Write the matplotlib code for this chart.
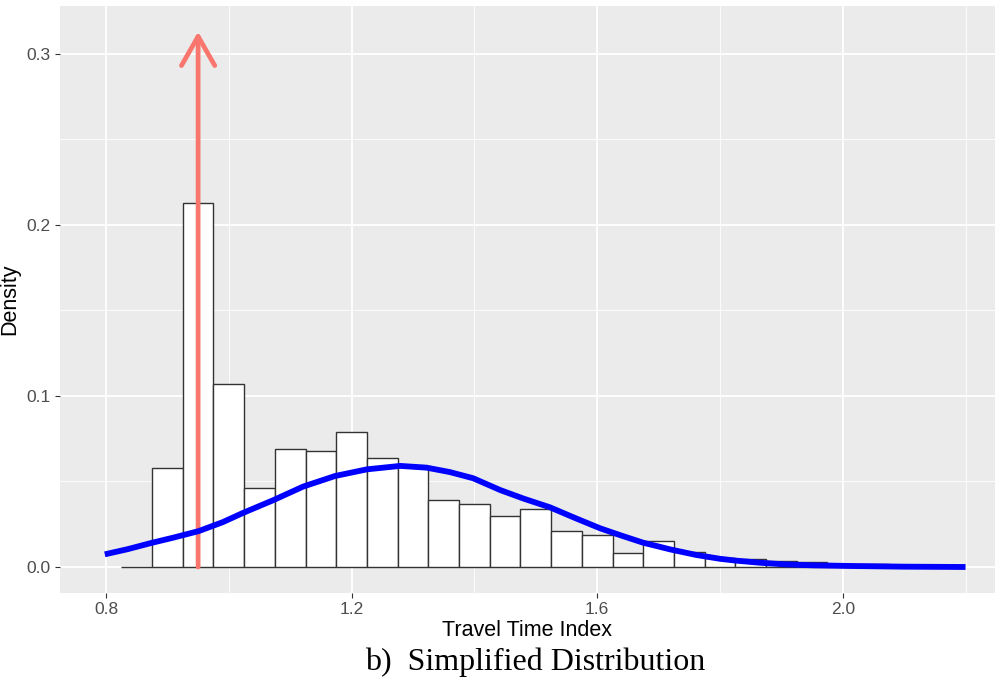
import numpy as np
import matplotlib.pyplot as plt

plt.rcParams['font.family'] = ['Liberation Sans', 'DejaVu Sans']

# Histogram of the travel time index (bin width 0.05, density scale)
bin_density = [0.0, 0.058, 0.213, 0.107, 0.046, 0.069, 0.068, 0.079, 0.064,
               0.059, 0.039, 0.037, 0.030, 0.034, 0.021, 0.019, 0.008, 0.015,
               0.009, 0.005, 0.0045, 0.0037, 0.0031, 0.0, 0.0019]
bin_start = 0.825
bin_width = 0.05
bin_left = bin_start + bin_width * np.arange(len(bin_density))

# Fitted density curve
curve_x = [0.798, 0.835, 0.872, 0.910, 0.951, 0.990, 1.023, 1.072, 1.121,
           1.173, 1.225, 1.279, 1.322, 1.360, 1.398, 1.442, 1.480, 1.523,
           1.565, 1.605, 1.640, 1.675, 1.720, 1.762, 1.800, 1.827, 1.865,
           1.903, 1.950, 2.012, 2.100, 2.200]
curve_y = [0.0074, 0.0104, 0.0139, 0.0172, 0.0210, 0.0262, 0.0316, 0.0390,
           0.0470, 0.0532, 0.0571, 0.0591, 0.0581, 0.0555, 0.0519, 0.0450,
           0.0400, 0.0349, 0.0285, 0.0226, 0.0183, 0.0142, 0.0102, 0.0070,
           0.0048, 0.0037, 0.0025, 0.0016, 0.0010, 0.0006, 0.0002, 0.0]

# Marker for the simplified value
arrow_x = 0.95
arrow_top = 0.313

fig = plt.figure(figsize=(9.98, 6.82), dpi=100)
ax = fig.add_axes([0.0601, 0.1305, 0.9369, 0.8607])
ax.set_facecolor('#EBEBEB')

ax.bar(bin_left, bin_density, width=bin_width, align='edge',
       color='white', edgecolor='#333333', linewidth=1.0, zorder=2)

ax.annotate('', xy=(arrow_x, arrow_top), xytext=(arrow_x, 0),
            arrowprops=dict(arrowstyle='->,head_length=2.1,head_width=1.2',
                            color='#F8766D', lw=3.4, mutation_scale=10,
                            shrinkA=0, shrinkB=0),
            zorder=3)

ax.plot(curve_x, curve_y, color='#0000FF', lw=4.2, zorder=4,
        solid_capstyle='butt')

ax.set_xlim(0.725, 2.248)
ax.set_ylim(-0.0152, 0.328)
ax.set_xticks([0.8, 1.2, 1.6, 2.0])
ax.set_xticklabels(['0.8', '1.2', '1.6', '2.0'])
ax.set_yticks([0.0, 0.1, 0.2, 0.3])
ax.set_yticklabels(['0.0', '0.1', '0.2', '0.3'])
ax.set_xticks([1.0, 1.4, 1.8, 2.2], minor=True)
ax.set_yticks([0.05, 0.15, 0.25], minor=True)

ax.grid(which='major', color='white', lw=1.3, zorder=0)
ax.grid(which='minor', color='white', lw=0.6, zorder=0)
ax.set_axisbelow(True)
for s in ax.spines.values():
    s.set_visible(False)
ax.tick_params(which='major', length=3.5, width=0.8, color='#333333',
               labelcolor='#4D4D4D', labelsize=12.5, pad=3)
ax.tick_params(which='minor', length=0)

ax.set_xlabel('Travel Time Index', fontsize=15.5, color='black', labelpad=2)
ax.set_ylabel('Density', fontsize=15.5, color='black')
ax.yaxis.set_label_coords(-0.043, 0.5)

fig.text(0.536, 0.029, 'b)  Simplified Distribution', ha='center', va='center',
         fontsize=23, family='Liberation Serif')

fig.savefig('out.png', dpi=100)
